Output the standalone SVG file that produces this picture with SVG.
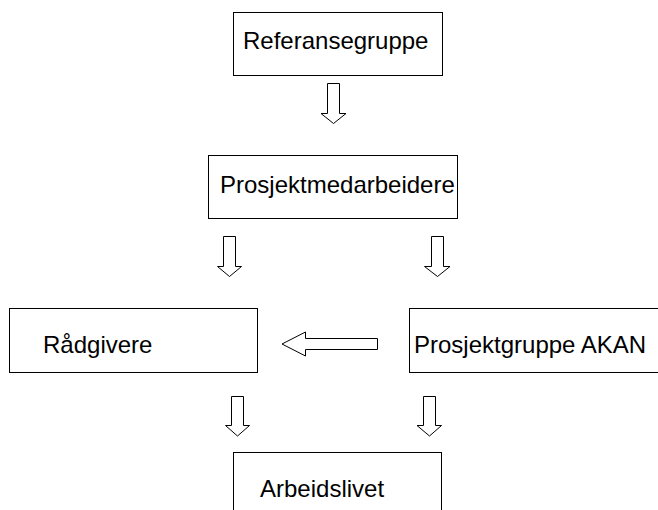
<svg xmlns="http://www.w3.org/2000/svg" width="658" height="510" viewBox="0 0 658 510">
<style>
.box{fill:#fff;stroke:#000;stroke-width:1}
.arr{fill:#fff;stroke:#000;stroke-width:1;stroke-linejoin:miter}
.lbl{font-family:"Liberation Sans",Arial,sans-serif;font-size:24px;fill:#000}
</style>
<rect width="658" height="510" fill="#fff"/>
<g id="connectors">
<polygon class="arr" points="327.5,83.5 339.5,83.5 339.5,113.5 346,113.5 333.5,123.5 321,113.5 327.5,113.5"/>
<polygon class="arr" points="223.5,236.5 235.5,236.5 235.5,266.5 241.5,266.5 229.5,276.5 217.5,266.5 223.5,266.5"/>
<polygon class="arr" points="431.5,236.5 443.5,236.5 443.5,266.5 450,266.5 437.5,276.5 424.5,266.5 431.5,266.5"/>
<polygon class="arr" points="377.5,338.5 377.5,349.5 305.5,349.5 305.5,356 282,344 305.5,332 305.5,338.5"/>
<polygon class="arr" points="231.5,396.5 243.5,396.5 243.5,425.5 249.5,425.5 237.5,436 225.5,425.5 231.5,425.5"/>
<polygon class="arr" points="423.5,396.5 435.5,396.5 435.5,425.5 441.5,425.5 429.5,436 417,425.5 423.5,425.5"/>
</g>
<g id="node-referansegruppe">
<rect class="box" x="233.5" y="12.5" width="209" height="63"/>
<text class="lbl" x="243" y="49">Referansegruppe</text>
</g>
<g id="node-prosjektmedarbeidere">
<rect class="box" x="208.5" y="155.5" width="249" height="63"/>
<text class="lbl" x="220" y="193">Prosjektmedarbeidere</text>
</g>
<g id="node-radgivere">
<rect class="box" x="9.5" y="308.5" width="248" height="64"/>
<text class="lbl" x="43" y="353">Rådgivere</text>
</g>
<g id="node-prosjektgruppe">
<rect class="box" x="409.5" y="308.5" width="260" height="64"/>
<text class="lbl" x="414" y="353">Prosjektgruppe AKAN</text>
</g>
<g id="node-arbeidslivet">
<rect class="box" x="233.5" y="452.5" width="208" height="70"/>
<text class="lbl" x="260" y="497">Arbeidslivet</text>
</g>
</svg>
